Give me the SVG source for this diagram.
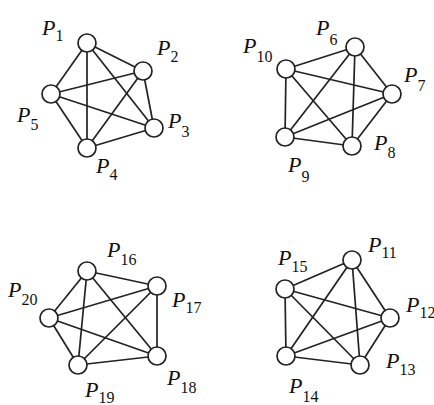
<svg xmlns="http://www.w3.org/2000/svg" width="434" height="405" viewBox="0 0 434 405">
<style>
.e{stroke:#222;stroke-width:1.7;fill:none}
.n{fill:#fff;stroke:#222;stroke-width:1.7}
.p{font-family:"Liberation Serif",serif;font-style:italic;font-size:22px;fill:#111}
.s{font-style:normal;font-size:16px}
</style>
<rect width="434" height="405" fill="#fff"/>
<g id="connectors">
<line class="e" x1="87" y1="43" x2="143" y2="71"/>
<line class="e" x1="87" y1="43" x2="154" y2="128"/>
<line class="e" x1="87" y1="43" x2="87" y2="148"/>
<line class="e" x1="87" y1="43" x2="51" y2="94"/>
<line class="e" x1="143" y1="71" x2="154" y2="128"/>
<line class="e" x1="143" y1="71" x2="87" y2="148"/>
<line class="e" x1="143" y1="71" x2="51" y2="94"/>
<line class="e" x1="154" y1="128" x2="87" y2="148"/>
<line class="e" x1="154" y1="128" x2="51" y2="94"/>
<line class="e" x1="87" y1="148" x2="51" y2="94"/>
<line class="e" x1="355" y1="47" x2="392" y2="94"/>
<line class="e" x1="355" y1="47" x2="352" y2="146"/>
<line class="e" x1="355" y1="47" x2="285" y2="137"/>
<line class="e" x1="355" y1="47" x2="286" y2="69"/>
<line class="e" x1="392" y1="94" x2="352" y2="146"/>
<line class="e" x1="392" y1="94" x2="285" y2="137"/>
<line class="e" x1="392" y1="94" x2="286" y2="69"/>
<line class="e" x1="352" y1="146" x2="285" y2="137"/>
<line class="e" x1="352" y1="146" x2="286" y2="69"/>
<line class="e" x1="285" y1="137" x2="286" y2="69"/>
<line class="e" x1="87" y1="271" x2="157" y2="286"/>
<line class="e" x1="87" y1="271" x2="157" y2="356"/>
<line class="e" x1="87" y1="271" x2="78" y2="365"/>
<line class="e" x1="87" y1="271" x2="49" y2="318"/>
<line class="e" x1="157" y1="286" x2="157" y2="356"/>
<line class="e" x1="157" y1="286" x2="78" y2="365"/>
<line class="e" x1="157" y1="286" x2="49" y2="318"/>
<line class="e" x1="157" y1="356" x2="78" y2="365"/>
<line class="e" x1="157" y1="356" x2="49" y2="318"/>
<line class="e" x1="78" y1="365" x2="49" y2="318"/>
<line class="e" x1="352" y1="260" x2="390" y2="318"/>
<line class="e" x1="352" y1="260" x2="360" y2="365"/>
<line class="e" x1="352" y1="260" x2="286" y2="356"/>
<line class="e" x1="352" y1="260" x2="285" y2="289"/>
<line class="e" x1="390" y1="318" x2="360" y2="365"/>
<line class="e" x1="390" y1="318" x2="286" y2="356"/>
<line class="e" x1="390" y1="318" x2="285" y2="289"/>
<line class="e" x1="360" y1="365" x2="286" y2="356"/>
<line class="e" x1="360" y1="365" x2="285" y2="289"/>
<line class="e" x1="286" y1="356" x2="285" y2="289"/>
</g>
<g id="P1"><circle class="n" cx="87" cy="43" r="9"/><text class="p" x="42" y="35">P<tspan class="s" dy="6">1</tspan></text></g>
<g id="P2"><circle class="n" cx="143" cy="71" r="9"/><text class="p" x="157" y="55">P<tspan class="s" dy="7">2</tspan></text></g>
<g id="P3"><circle class="n" cx="154" cy="128" r="9"/><text class="p" x="168" y="128">P<tspan class="s" dy="9">3</tspan></text></g>
<g id="P4"><circle class="n" cx="87" cy="148" r="9"/><text class="p" x="96" y="173">P<tspan class="s" dy="7">4</tspan></text></g>
<g id="P5"><circle class="n" cx="51" cy="94" r="9"/><text class="p" x="17" y="122">P<tspan class="s" dy="8">5</tspan></text></g>
<g id="P6"><circle class="n" cx="355" cy="47" r="9"/><text class="p" x="316" y="35">P<tspan class="s" dy="10">6</tspan></text></g>
<g id="P7"><circle class="n" cx="392" cy="94" r="9"/><text class="p" x="404" y="82">P<tspan class="s" dy="9">7</tspan></text></g>
<g id="P8"><circle class="n" cx="352" cy="146" r="9"/><text class="p" x="374" y="150">P<tspan class="s" dy="8">8</tspan></text></g>
<g id="P9"><circle class="n" cx="285" cy="137" r="9"/><text class="p" x="288" y="172">P<tspan class="s" dy="10">9</tspan></text></g>
<g id="P10"><circle class="n" cx="286" cy="69" r="9"/><text class="p" x="243" y="53">P<tspan class="s" dy="9">10</tspan></text></g>
<g id="P11"><circle class="n" cx="352" cy="260" r="9"/><text class="p" x="368" y="252">P<tspan class="s" dy="6">11</tspan></text></g>
<g id="P12"><circle class="n" cx="390" cy="318" r="9"/><text class="p" x="406" y="312">P<tspan class="s" dy="6">12</tspan></text></g>
<g id="P13"><circle class="n" cx="360" cy="365" r="9"/><text class="p" x="386" y="368">P<tspan class="s" dy="7">13</tspan></text></g>
<g id="P14"><circle class="n" cx="286" cy="356" r="9"/><text class="p" x="289" y="393">P<tspan class="s" dy="9">14</tspan></text></g>
<g id="P15"><circle class="n" cx="285" cy="289" r="9"/><text class="p" x="278" y="265">P<tspan class="s" dy="7">15</tspan></text></g>
<g id="P16"><circle class="n" cx="87" cy="271" r="9"/><text class="p" x="107" y="257">P<tspan class="s" dy="8">16</tspan></text></g>
<g id="P17"><circle class="n" cx="157" cy="286" r="9"/><text class="p" x="172" y="307">P<tspan class="s" dy="6">17</tspan></text></g>
<g id="P18"><circle class="n" cx="157" cy="356" r="9"/><text class="p" x="167" y="385">P<tspan class="s" dy="8">18</tspan></text></g>
<g id="P19"><circle class="n" cx="78" cy="365" r="9"/><text class="p" x="85" y="397">P<tspan class="s" dy="6">19</tspan></text></g>
<g id="P20"><circle class="n" cx="49" cy="318" r="9"/><text class="p" x="8" y="297">P<tspan class="s" dy="8">20</tspan></text></g>
</svg>
